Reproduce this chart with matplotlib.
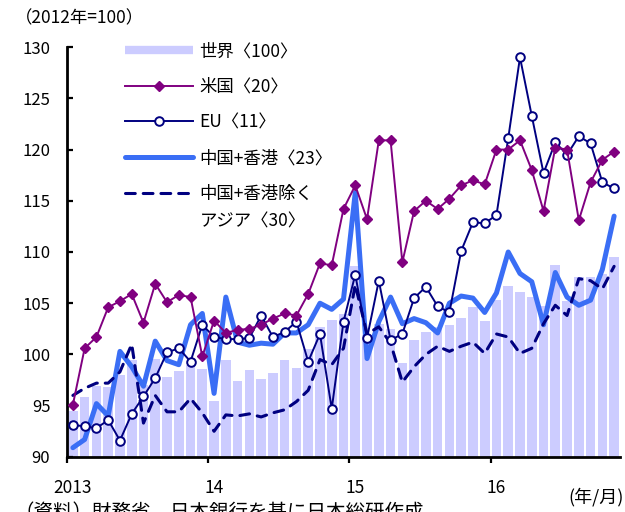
import matplotlib
matplotlib.use("Agg")
import matplotlib.pyplot as plt
from matplotlib.lines import Line2D
import numpy as np

plt.rcParams['font.family'] = ['Noto Sans CJK JP', 'DejaVu Sans']

# Monthly export volume index, Jan 2013 - Nov 2016 (2012 = 100)
months = list(range(47))
year_labels = ["2013", "14", "15", "16"]

world = [94.5, 95.8, 96.9, 96.8, 98.0, 99.5, 97.0, 99.6, 97.8, 98.4, 99.0, 98.6,
         95.5, 99.5, 97.4, 98.5, 97.6, 98.2, 99.5, 98.7, 100.5, 102.7, 103.4, 103.9,
         108.6, 101.9, 103.0, 102.5, 99.2, 101.4, 102.2, 102.7, 102.9, 103.6, 104.6, 103.3,
         105.3, 106.7, 106.1, 105.6, 104.7, 108.7, 105.2, 107.6, 107.6, 107.9, 109.5]

usa = [95.1, 100.6, 101.7, 104.6, 105.2, 105.9, 103.1, 106.9, 105.1, 105.8, 105.6, 99.8,
       103.3, 102.1, 102.4, 102.5, 102.9, 103.5, 104.0, 103.8, 105.9, 108.9, 108.7, 114.2,
       116.5, 113.2, 120.9, 120.9, 109.0, 114.0, 115.0, 114.2, 115.2, 116.5, 117.0, 116.6,
       120.0, 120.0, 120.9, 118.0, 114.0, 120.2, 120.0, 113.1, 116.8, 119.0, 119.8]

eu = [93.1, 93.0, 92.8, 93.6, 91.6, 94.2, 95.9, 97.7, 100.2, 100.6, 99.3, 102.9,
      101.7, 101.5, 101.5, 101.6, 103.8, 101.7, 102.2, 103.2, 99.3, 102.0, 94.7, 103.2,
      107.8, 101.6, 107.2, 101.4, 102.0, 105.5, 106.6, 104.7, 104.1, 110.1, 112.9, 112.8,
      113.6, 121.1, 129.0, 123.3, 117.7, 120.7, 119.5, 121.3, 120.6, 116.8, 116.2]

china_hk = [90.9, 91.7, 95.2, 94.0, 100.3, 98.8, 96.9, 101.3, 99.4, 99.0, 102.9, 104.0,
            96.2, 105.6, 101.2, 100.9, 101.1, 101.0, 102.1, 102.1, 102.9, 105.0, 104.4, 105.4,
            115.8, 99.6, 103.2, 105.6, 103.0, 103.5, 103.1, 102.1, 105.0, 105.7, 105.5, 104.1,
            106.0, 110.0, 107.9, 107.1, 102.9, 108.0, 105.6, 104.8, 105.3, 108.3, 113.5]

asia_ex = [96.0, 96.7, 97.2, 97.2, 98.3, 101.0, 93.3, 96.0, 94.4, 94.4, 95.7, 94.3,
           92.5, 94.1, 94.0, 94.2, 93.9, 94.3, 94.6, 95.4, 96.5, 99.5, 99.0, 100.6,
           106.8, 102.0, 102.7, 101.1, 97.3, 98.8, 100.0, 100.8, 100.3, 100.8, 101.2, 100.1,
           102.0, 101.7, 100.1, 100.6, 103.0, 104.8, 103.8, 107.4, 107.2, 106.4, 108.6]

labels = ["世界〈100〉", "米国〈20〉", "EU〈11〉", "中国+香港〈23〉", "中国+香港除く"]
label_cont = "アジア〈30〉"

c_world = "#ccccff"
c_us = "#800080"
c_eu = "#000080"
c_cn = "#3a6ef5"
c_asia = "#000080"

W, H = 625, 512
fig = plt.figure(figsize=(W / 100, H / 100), dpi=100)
ax = fig.add_axes([67 / W, 1 - 456.9 / H, 553 / W, 409.8 / H])

x = np.array(months)
ax.bar(x, world, width=0.82, color=c_world, zorder=1)
ax.plot(x, china_hk, color=c_cn, lw=3.6, solid_capstyle="round",
        solid_joinstyle="round", zorder=2)
ax.plot(x, asia_ex, color=c_asia, lw=2.2, linestyle=(0, (3.2, 2.6)),
        dash_capstyle="round", zorder=3)
ax.plot(x, eu, color=c_eu, lw=1.4, marker="o", ms=6.2, mfc="white",
        mec=c_eu, mew=1.4, zorder=4)
ax.plot(x, usa, color=c_us, lw=1.4, marker="D", ms=5, mfc=c_us,
        mec=c_us, zorder=5)

ax.set_xlim(-0.5, 46.5)
ax.set_ylim(90, 130)
ax.set_yticks(range(90, 131, 5))
ax.tick_params(axis="y", direction="in", length=4, width=1.6, pad=12,
               labelsize=12)
ax.set_xticks([-0.5, 11.5, 23.5, 35.5])
ax.set_xticklabels([])
ax.tick_params(axis="x", which="major", direction="out", length=4, width=1.6)
ax.set_xticks([0, 12, 24, 36], minor=True)
ax.set_xticklabels(year_labels, minor=True)
ax.tick_params(axis="x", which="minor", length=0, pad=16, labelsize=12.5)

for s in ["top", "right"]:
    ax.spines[s].set_visible(False)
for s in ["left", "bottom"]:
    ax.spines[s].set_linewidth(2.0)

handles = [
    Line2D([], [], color=c_world, lw=6, solid_capstyle="butt"),
    Line2D([], [], color=c_us, lw=1.4, marker="D", ms=5),
    Line2D([], [], color=c_eu, lw=1.4, marker="o", ms=6.2, mfc="white", mew=1.4),
    Line2D([], [], color=c_cn, lw=3.6, solid_capstyle="round"),
    Line2D([], [], color=c_asia, lw=2.2, linestyle=(0, (3.2, 2.6)),
           dash_capstyle="round"),
]
leg = ax.legend(handles, labels, loc="upper left",
                bbox_to_anchor=(125 / W, 1 - 42 / H),
                bbox_transform=fig.transFigure, frameon=False, fontsize=12.5,
                handlelength=3.9, handletextpad=0.4, labelspacing=1.02,
                borderpad=0, borderaxespad=0)

# second line of the last legend label, set under its first line
fig.canvas.draw()
bb = leg.get_texts()[-1].get_window_extent(fig.canvas.get_renderer())
fig.text(bb.x0 / W, ((bb.y0 + bb.y1) / 2 - 28) / H, label_cont,
         fontsize=12.5, va="center", ha="left")

fig.text(15 / W, 1 - 18.5 / H, "（2012年=100）", fontsize=12.5, va="center", ha="left")
fig.text(624 / W, 1 - 497 / H, "(年/月)", fontsize=13, va="center", ha="right")
fig.text(14 / W, 1 - 502 / H, "（資料）財務省、日本銀行を基に日本総研作成",
         fontsize=14, va="top", ha="left")

fig.savefig("out.png", dpi=100)
